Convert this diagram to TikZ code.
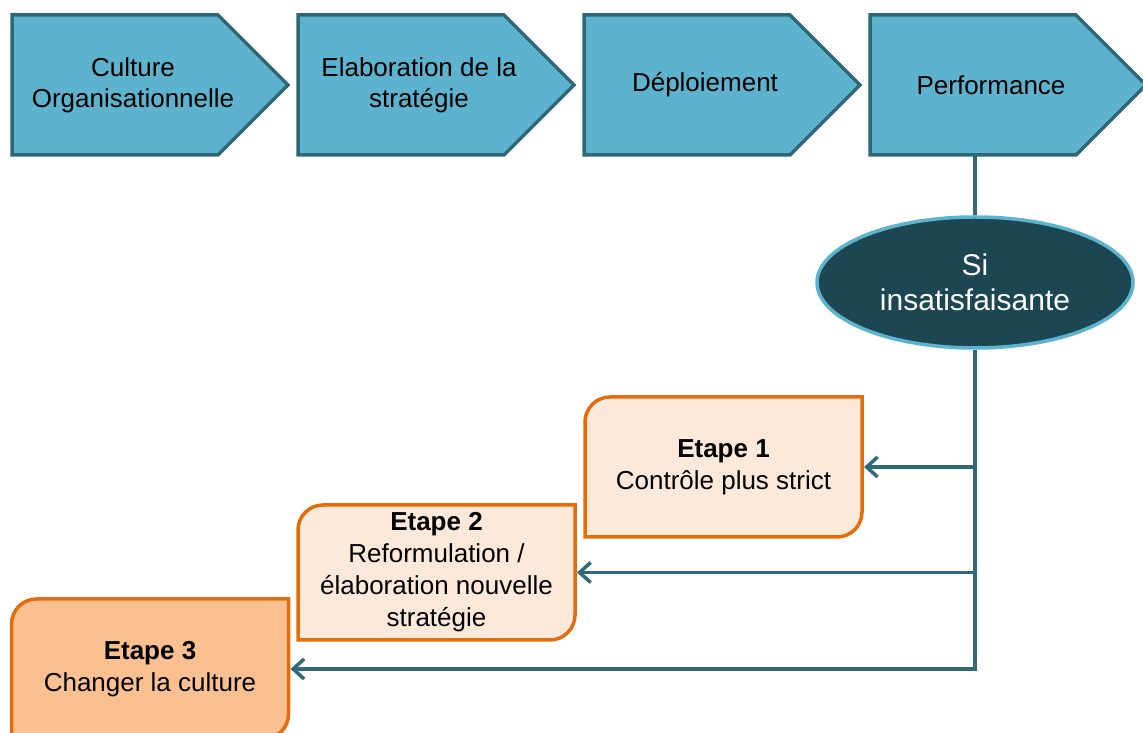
\documentclass[tikz,border=0pt]{standalone}
\usepackage{fontspec}
\setmainfont{Liberation Sans}
\usetikzlibrary{shapes.geometric, arrows.meta, positioning, backgrounds}
\definecolor{chevfill}{HTML}{5DB3CD}
\definecolor{chevedge}{HTML}{2C6877}
\definecolor{ovalfill}{HTML}{1C4652}
\definecolor{linkcol}{HTML}{31697A}
\definecolor{stepfill}{HTML}{FDE9D9}
\definecolor{stepdark}{HTML}{FAC090}
\definecolor{stepedge}{HTML}{E46C0A}
\newcommand{\chevframe}[1]{\draw[fill=chevfill, draw=chevedge, line width=3.5pt] (#1.north west) -- ([xshift=-36pt]#1.north east) -- ([xshift=34pt]#1.east) -- ([xshift=-36pt]#1.south east) -- (#1.south west) -- cycle;}
\newcommand{\stepframe}[2]{\draw[fill=#2, draw=stepedge, line width=3.5pt] ([xshift=25pt]#1.north west) -- (#1.north east) -- ([yshift=25pt]#1.south east) arc[start angle=0, end angle=-90, radius=25pt] -- (#1.south west) -- ([yshift=-25pt]#1.north west) arc[start angle=180, end angle=90, radius=25pt] -- cycle;}

\begin{document}
\begin{tikzpicture}[
    x=1pt, y=1pt,
    node distance=44pt,
    chev/.style={minimum width=242pt, minimum height=140pt, inner sep=0pt, outer sep=0pt, align=center, font=\fontsize{26}{31}\selectfont},
    oval/.style={ellipse, draw=chevfill, fill=ovalfill, line width=3.5pt, minimum width=316pt, minimum height=131pt, align=center, text=white, font=\fontsize{30}{35}\selectfont},
    stepbox/.style={minimum width=277pt, minimum height=140pt, inner sep=0pt, outer sep=0pt, align=center, font=\fontsize{26}{32}\selectfont},
    link/.style={draw=linkcol, line width=3.5pt, -{Straight Barb[length=11pt, width=20pt]}, shorten >=2pt}
]
\useasboundingbox (0,0) rectangle (1143,733);
% process chain
\node[chev] (culture) at (133,648) {Culture\\Organisationnelle};
\node[chev, right=of culture] (elab) {Elaboration de la\\stratégie};
\node[chev, right=of elab] (deploi) {Déploiement};
\node[chev, right=of deploi] (perf) {Performance};
\node[oval] (si) at (975,450.5) {Si\\insatisfaisante};
% corrective steps
\node[stepbox] (etape1) at (723.5,266) {\textbf{Etape 1}\\Contrôle plus strict};
\node[stepbox, minimum height=135pt] (etape2) at (436.5,160.5) {\textbf{Etape 2}\\Reformulation /\\élaboration nouvelle\\stratégie};
\node[stepbox] (etape3) at (150,64) {\textbf{Etape 3}\\Changer la culture};
\begin{scope}[on background layer]
\chevframe{culture}
\chevframe{elab}
\chevframe{deploi}
\chevframe{perf}
\stepframe{etape1}{stepfill}
\stepframe{etape2}{stepfill}
\stepframe{etape3}{stepdark}
\end{scope}
\draw[draw=linkcol, line width=3.5pt] (perf.south -| si.north) -- (si.north);
\draw[link] (si.south) |- (etape3.east);
\draw[link] (si.south |- etape1.east) -- (etape1.east);
\draw[link] (si.south |- etape2.east) -- (etape2.east);
\end{tikzpicture}
\end{document}
